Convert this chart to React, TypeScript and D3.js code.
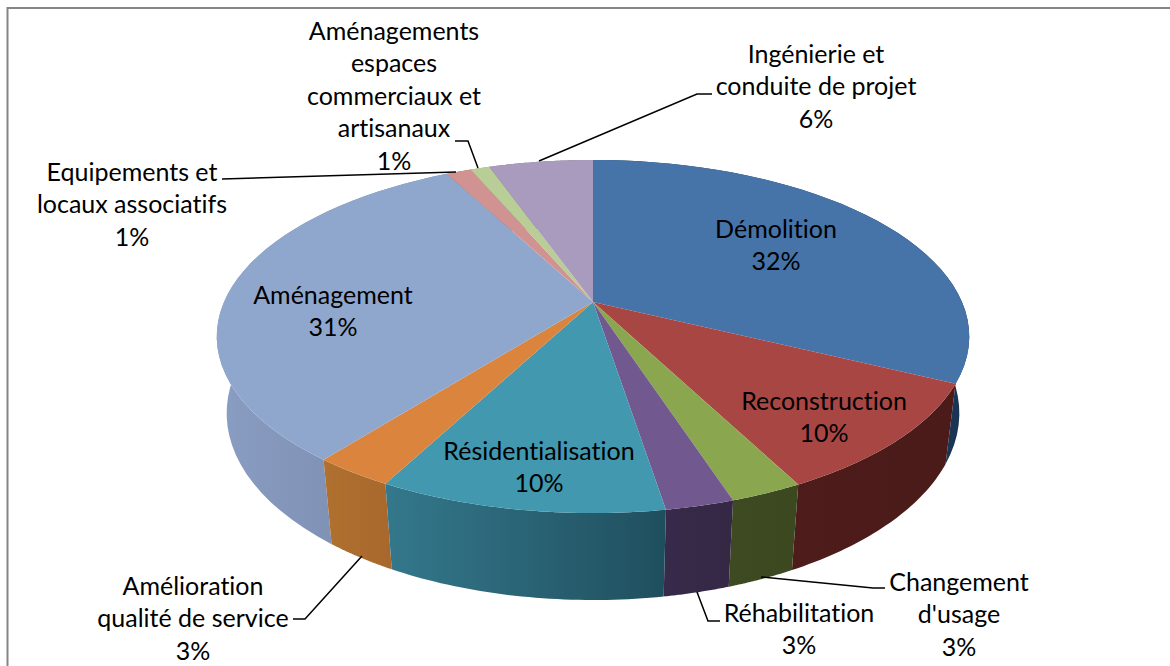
import React from 'react';
import * as d3 from 'd3';

const categories = [
  ['Démolition'],
  ['Reconstruction'],
  ['Changement', "d'usage"],
  ['Réhabilitation'],
  ['Résidentialisation'],
  ['Amélioration', 'qualité de service'],
  ['Aménagement'],
  ['Equipements et', 'locaux associatifs'],
  ['Aménagements', 'espaces', 'commerciaux et', 'artisanaux'],
  ['Ingénierie et', 'conduite de projet'],
];
const values = [32.25, 10.15, 2.6, 2.45, 10.25, 2.9, 31.7, 1.3, 1.0, 5.4];
const printed = [32, 10, 3, 3, 10, 3, 31, 1, 1, 6];

const topColors = ['#4674a9', '#a84644', '#8aa64e', '#71588f', '#4198af', '#db843d', '#90a7cd', '#d19392', '#b9cd96', '#a99bbd'];
const sideLeft = ['#1f3f63', '#4e1c1a', '#3e4a21', '#372a4a', '#34788c', '#b0702f', '#8a9dc2', '#a07070', '#8a9a70', '#7f7490'];
const sideRight = ['#1a3553', '#4a1b19', '#3c4820', '#352845', '#1f4f5e', '#a8682d', '#7586a8', '#a07070', '#8a9a70', '#7f7490'];

// Label placement: centre x, first baseline
const labelAnchors: [number, number][] = [
  [776, 238], [824, 410], [959, 591], [799, 622], [539, 460],
  [193, 595], [333, 304], [132, 181], [394, 40], [816, 63],
];
const leaders: ([number, number][] | null)[] = [
  null, null,
  [[761, 577], [873, 588], [885, 588]],
  [[697, 592], [708, 621], [720, 621]],
  null,
  [[362, 556], [305, 619], [293, 619]],
  null,
  [[456, 172], [222, 179]],
  [[478, 168], [468, 141], [455, 141]],
  [[539, 161], [697, 94], [712, 94]],
];

const W = 1170;
const H = 666;
const cx = 593;
const cy = 302;
const a = 369;
const b = 169.8;
const k = 0.1955;
const depthC = 77.7;
const depthM = 0.026;
const lineH = 32.4;

// perspective projection of a point on the pie disc
const topPt = (t: number): [number, number] => {
  const u = Math.sin(t), v = Math.cos(t), w = 1 + k * v;
  return [cx + (a * u) / w, cy - (b * v) / w];
};
const botPt = (t: number): [number, number] => {
  const u = Math.sin(t), v = Math.cos(t), w = 1 + k * v + depthM;
  return [cx + (a * u) / w, cy - (b * v - depthC) / w];
};

const arcs = d3.pie<number>().sort(null)(values);
const samples = (s: number, e: number) => d3.range(0, 41).map(i => s + ((e - s) * i) / 40);
const line = d3.line();

const App = () => {
  const walls = arcs
    .map((d, i) => {
      const ts = samples(d.startAngle, d.endAngle);
      const top = ts.map(topPt);
      const bot = ts.map(botPt).reverse();
      const xs = [...top, ...bot].map(p => p[0]);
      return { i, d: line([...top, ...bot]) + 'Z', x0: d3.min(xs)!, x1: d3.max(xs)!, v: Math.cos((d.startAngle + d.endAngle) / 2) };
    })
    .sort((p, q) => q.v - p.v);

  return (
    <svg width={W} height={H} style={{ position: 'fixed', left: 0, top: 0, background: '#fff', fontVariantLigatures: 'none' }} fontFamily="Lato" fontSize={25}>
      <defs>
        {walls.map(w => (
          <linearGradient key={w.i} id={`side${w.i}`} gradientUnits="userSpaceOnUse" x1={w.x0} x2={w.x1} y1={0} y2={0}>
            <stop offset="0%" stopColor={sideLeft[w.i]} />
            <stop offset="100%" stopColor={sideRight[w.i]} />
          </linearGradient>
        ))}
      </defs>
      <path d="M7.5,666V8H1170" fill="none" stroke="#868686" strokeWidth={2} />
      {walls.map(w => (
        <path key={w.i} d={w.d} fill={`url(#side${w.i})`} />
      ))}
      {arcs.map((d, i) => (
        <path key={i} d={line([[cx, cy], ...samples(d.startAngle, d.endAngle).map(topPt)]) + 'Z'} fill={topColors[i]} />
      ))}
      {leaders.map((l, i) => l && <path key={i} d={line(l)!} fill="none" stroke="#000" strokeWidth={1.5} />)}
      {categories.map((lines, i) => {
        const [x, y] = labelAnchors[i];
        return (
          <text key={i} textAnchor="middle" fill="#000">
            {[...lines, d3.format('.0%')(printed[i] / 100)].map((t, j) => (
              <tspan key={j} x={x} y={y + j * lineH}>{t}</tspan>
            ))}
          </text>
        );
      })}
    </svg>
  );
};

export default App;
